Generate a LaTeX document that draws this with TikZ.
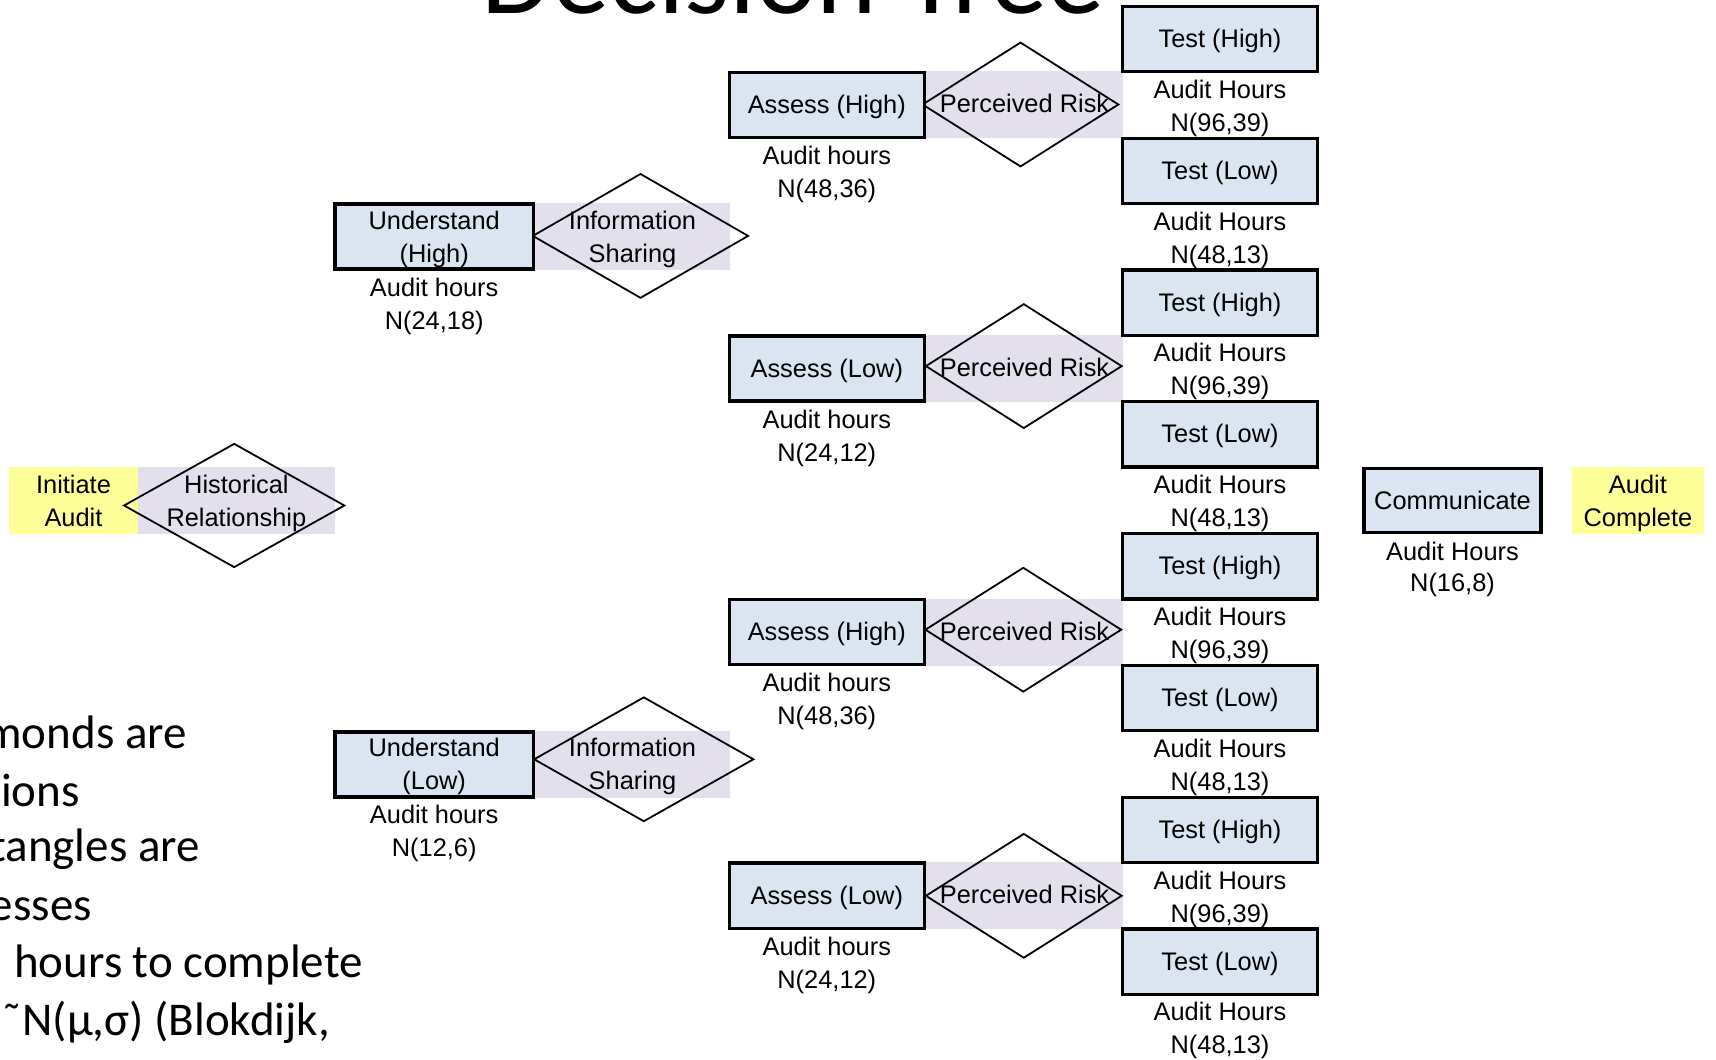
\documentclass[tikz,border=0pt]{standalone}
\usepackage{fontspec}
\usetikzlibrary{shapes.geometric}
\newfontfamily\diagfont{Liberation Sans}
\newfontfamily\slidefont{Carlito}
\definecolor{procfill}{HTML}{DBE5F1}
\definecolor{decfill}{HTML}{E4DFEC}
\definecolor{termfill}{HTML}{FFFF99}

\begin{document}
\begin{tikzpicture}[x=1pt,y=-1pt,
  procbox/.style={rectangle,draw=black,line width=3.3pt,fill=procfill,inner sep=0pt},
  decband/.style={rectangle,fill=decfill,draw=none,inner sep=0pt},
  termband/.style={rectangle,fill=termfill,draw=none,inner sep=0pt},
  dmd/.style={diamond,draw=black,line width=1.8pt,inner sep=0pt,aspect=1},
  txt/.style={anchor=base,inner sep=0pt,text=black,font=\diagfont\fontsize{25.4}{33}\selectfont},
  slidetxt/.style={anchor=base east,inner sep=0pt,text=black,font=\slidefont\fontsize{47}{57}\selectfont}]

\useasboundingbox (0,0) rectangle (1716,1060);
\fill[white] (0,0) rectangle (1716,1060);
\clip (0,0) rectangle (1716,1060);

% slide title and bullet text
\node[anchor=base,inner sep=0pt,font=\slidefont\fontsize{115}{138}\selectfont] (title) at (793.5,13.5) {Decision Tree};
\node[slidetxt] (b1) at (187,748.3) {monds are};
\node[slidetxt] (b2) at (80,806) {ions};
\node[slidetxt] (b3) at (200,861.7) {tangles are};
\node[slidetxt] (b4) at (92,920) {esses};
\node[slidetxt] (b5) at (363,977.7) {hours to complete};
\node[slidetxt] (b6) at (330,1035) {\char"02DC N(μ,σ) (Blokdijk,};

% start and end terminals
\node[termband,minimum width=128.4pt,minimum height=66.4pt] (init) at (73.5,500.5) {};
\node[txt] (init-a) at (73.5,493.3) {Initiate};
\node[txt] (init-b) at (73.5,526) {Audit};
\node[termband,minimum width=132.3pt,minimum height=66.7pt] (done) at (1637.9,500.6) {};
\node[txt] (done-a) at (1637.9,493.3) {Audit};
\node[txt] (done-b) at (1637.9,526) {Complete};

% first decision: historical relationship
\node[decband,minimum width=197.3pt,minimum height=66.4pt] (hist) at (236.4,500.5) {};
\node[dmd,minimum width=221pt,minimum height=124pt] (hist-d) at (234.2,505.5) {};
\node[txt] (hist-a) at (236.4,493.3) {Historical};
\node[txt] (hist-b) at (236.4,526) {Relationship};

% understand steps and information sharing decisions
\foreach \k/\lvl/\m/\s/\cy/\dx/\dy/\dw in {0/High/24/18/236.5/640.5/235.9/216,1/Low/12/6/764.4/643.8/759.3/220}{
  \node[decband,minimum width=195pt,minimum height=66.7pt] (info\k) at (632.5,\cy) {};
  \node[dmd,minimum width=\dw pt,minimum height=124.6pt] (info\k-d) at (\dx,\dy) {};
  \node[txt] (info\k-a) at ([yshift=7.5pt]info\k.center) {Information};
  \node[txt] (info\k-b) at ([yshift=-25.5pt]info\k.center) {Sharing};
  \node[procbox,minimum width=198.4pt,minimum height=65.1pt] (und\k) at (434.2,\cy) {};
  \node[txt] (und\k-a) at ([yshift=7.5pt]und\k.center) {Understand};
  \node[txt] (und\k-b) at ([yshift=-25.5pt]und\k.center) {(\lvl)};
  \node[txt] (und\k-h) at ([yshift=-59.5pt]und\k.center) {Audit hours};
  \node[txt] (und\k-n) at ([yshift=-92.5pt]und\k.center) {N(\m,\s)};
}

% assess steps and perceived risk decisions
\foreach \k/\lvl/\m/\s/\dx/\dy in {0/High/48/36/1020.5/104.5,1/Low/24/12/1023.8/366.1,2/High/48/36/1023.3/629.7,3/Low/24/12/1023.8/895.8}{
  \pgfmathsetmacro\cy{104.9+263.6*\k}
  \node[decband,minimum width=197pt,minimum height=67pt] (risk\k) at (1024.5,\cy) {};
  \node[dmd,minimum width=196.5pt,minimum height=124.6pt] (risk\k-d) at (\dx,\dy) {};
  \node[txt] (risk\k-a) at ([yshift=-8pt]risk\k.center) {Perceived Risk};
  \node[procbox,minimum width=195.2pt,minimum height=65.2pt] (asm\k) at (826.8,\cy) {};
  \node[txt] (asm\k-a) at ([yshift=-8.5pt]asm\k.center) {Assess (\lvl)};
  \node[txt] (asm\k-h) at ([yshift=-59.5pt]asm\k.center) {Audit hours};
  \node[txt] (asm\k-n) at ([yshift=-92.5pt]asm\k.center) {N(\m,\s)};
}

% test steps
\foreach \k/\lvl/\m/\s in {0/High/96/39,1/Low/48/13,2/High/96/39,3/Low/48/13,4/High/96/39,5/Low/48/13,6/High/96/39,7/Low/48/13}{
  \pgfmathsetmacro\cy{39+131.8*\k}
  \node[procbox,minimum width=195.3pt,minimum height=65.3pt] (test\k) at (1220,\cy) {};
  \node[txt] (test\k-a) at ([yshift=-8.5pt]test\k.center) {Test (\lvl)};
  \node[txt] (test\k-h) at ([yshift=-59.3pt]test\k.center) {Audit Hours};
  \node[txt] (test\k-n) at ([yshift=-92.3pt]test\k.center) {N(\m,\s)};
}

% communicate step
\node[procbox,minimum width=177.1pt,minimum height=64pt] (comm) at (1452.5,500.3) {};
\node[txt] (comm-a) at ([yshift=-9pt]comm.center) {Communicate};
\node[txt] (comm-h) at ([yshift=-59.7pt]comm.center) {Audit Hours};
\node[txt] (comm-n) at ([yshift=-91.4pt]comm.center) {N(16,8)};
\end{tikzpicture}
\end{document}
